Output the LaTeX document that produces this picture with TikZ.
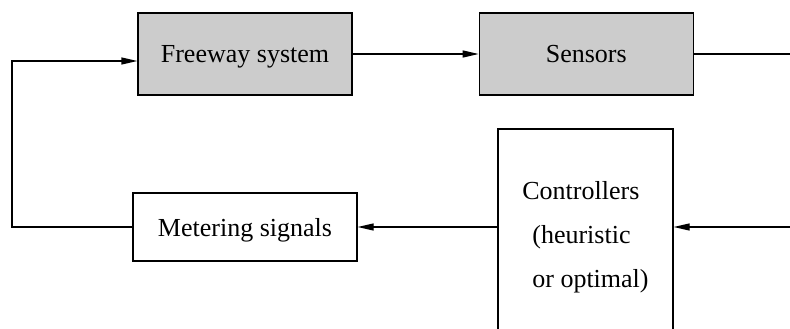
\documentclass[tikz,border=0pt]{standalone}
\usepackage{fontspec}
\setmainfont{Liberation Serif}
\usetikzlibrary{positioning, arrows.meta}

\begin{document}
\begin{tikzpicture}[x=1pt, y=-1pt, node distance={126pt}, line width=1.3pt,
                    font=\fontsize{26}{44}\selectfont,
                    >={Triangle[length=16pt, width=7pt]},
                    main/.style = {draw, inner sep=0pt, fill=black!20,
                        text height=18pt, text depth=0pt,
                        minimum width=214pt, minimum height=82pt},
                    plain/.style = {draw, inner sep=0pt, fill=white}]
        \useasboundingbox (0,0) rectangle (790,329);

        \node[main] (fwy) at (245,54) {Freeway system};

        \node[main] (sens) [right=of fwy] {Sensors};

        \node[plain, text height=18pt, text depth=0pt, minimum width=224pt,
              minimum height=68pt] (meter) at (245,227) {Metering signals};

        \node[plain, minimum width=175pt, minimum height=216pt, align=left] (ctrl)
            at (585.5,237) {Controllers\\ \hspace{10pt}(heuristic\\ \hspace{10pt}or optimal)};

        \coordinate (out) at (790,54);
        \coordinate (rin) at (790,227);
        \coordinate (corner) at (12,227);

        \draw[->] (fwy) -- (sens);
        \draw (sens) -- (out);
        \draw[->] (rin) -- (rin -| ctrl.east);
        \draw[->] (meter -| ctrl.west) -- (meter);
        \draw[->] (meter.west) -- (corner) |- ([yshift=-7pt]fwy.west);
    \end{tikzpicture}
\end{document}
